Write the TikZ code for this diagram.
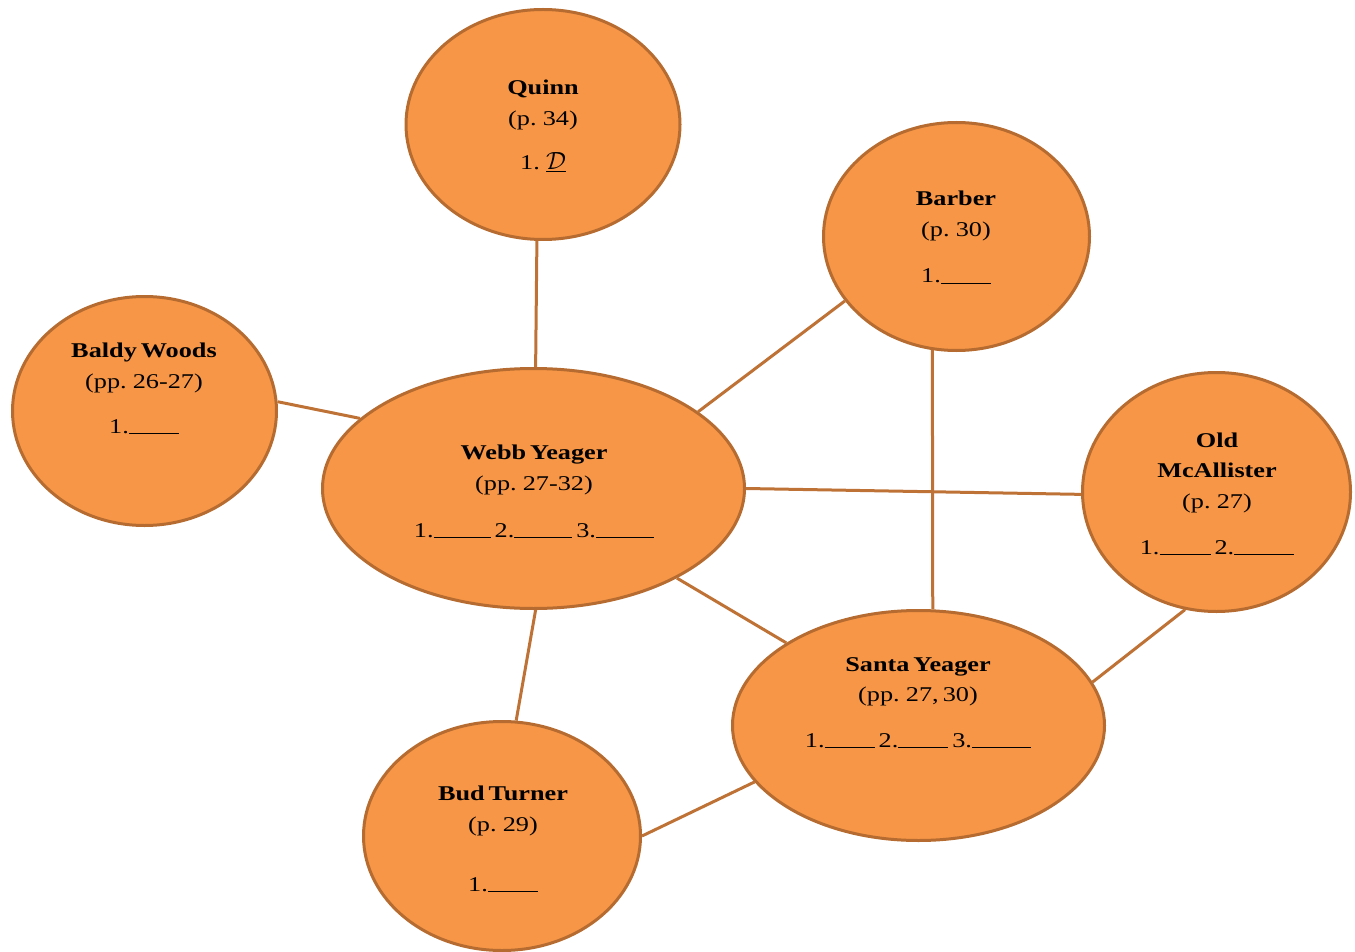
\documentclass[tikz,border=0pt]{standalone}
\usepackage{fontspec}
\setmainfont[FakeStretch=1.25]{Liberation Serif}
\usetikzlibrary{shapes.geometric}
\definecolor{fillor}{RGB}{247,150,70}
\definecolor{edgeor}{RGB}{182,108,48}
\definecolor{lineor}{RGB}{190,114,54}
\newcommand\blank[1]{\rule[-1.2pt]{#1pt}{1pt}}
\newcommand\lines[1]{\begin{tabular}[t]{@{}c@{}}#1\end{tabular}}
\newcommand\txtfont{\fontsize{21}{31}\selectfont\spaceskip=4pt plus 1pt\relax}
\begin{document}
\begin{tikzpicture}[x=1pt,y=-1pt,
  bubble/.style={ellipse, draw=edgeor, line width=3pt, fill=fillor, inner sep=0pt},
  link/.style={draw=lineor, line width=3pt},
  txt/.style={anchor=base, inner sep=0pt, font=\txtfont}]
\useasboundingbox (0,0) rectangle (1355,952);
% ellipses
\node[bubble, minimum width=274pt, minimum height=230pt] (quinn) at (543,124.5) {};
\node[bubble, minimum width=266pt, minimum height=228pt] (barber) at (956.5,236.5) {};
\node[bubble, minimum width=264pt, minimum height=229pt] (baldy) at (144.5,411) {};
\node[bubble, minimum width=422pt, minimum height=240pt] (webb) at (533.5,488.5) {};
\node[bubble, minimum width=268pt, minimum height=239pt] (old) at (1216.5,492) {};
\node[bubble, minimum width=372pt, minimum height=230pt] (santa) at (918.5,725.5) {};
\node[bubble, minimum width=277pt, minimum height=229pt] (bud) at (502,836) {};
% connectors
\draw[link] (quinn.267) -- (webb.89.5);
\draw[link] (baldy.4.7) -- (webb.158.8);
\draw[link] (barber.210) -- (webb.25.3);
\draw[link] (barber.258.3) -- (santa.83.1);
\draw[link] (webb.-0.3) -- (old.181.3);
\draw[link] (webb.-32.2) -- (santa.148.9);
\draw[link] (old.255.6) -- (santa.14.2);
\draw[link] (webb.-89) -- (bud.83.1);
\draw[link] (bud.0) -- (santa.199);
% texts
\node[txt] (quinnt) at (543,95) {\lines{\textbf{Quinn}\\(p. 34)\\[13pt]1. {\fontsize{25}{31}\selectfont$\underline{\mathcal{D}}$}}};
\node[txt] (barbert) at (956,206) {\lines{\textbf{Barber}\\(p. 30)\\[15pt]1.\blank{50}}};
\node[txt] (baldyt) at (144,357) {\lines{\textbf{Baldy Woods}\\(pp. 26-27)\\[14pt]1.\blank{50}}};
\node[txt] (webbt) at (534,459) {\lines{\textbf{Webb Yeager}\\(pp. 27-32)\\[16pt]1.\blank{57} 2.\blank{58} 3.\blank{58}}};
\node[txt] (oldt) at (1217,447) {\lines{\textbf{Old}\\[-1pt]\textbf{McAllister}\\(p. 27)\\[15pt]1.\blank{51} 2.\blank{60}}};
\node[txt] (santat) at (918,671) {\lines{\textbf{Santa Yeager}\\[-1pt](pp. 27, 30)\\[15pt]1.\blank{50} 2.\blank{50} 3.\blank{59}}};
\node[txt] (budt) at (503,800) {\lines{\textbf{Bud Turner}\\(p. 29)\\[29pt]1.\blank{50}}};
\end{tikzpicture}
\end{document}
